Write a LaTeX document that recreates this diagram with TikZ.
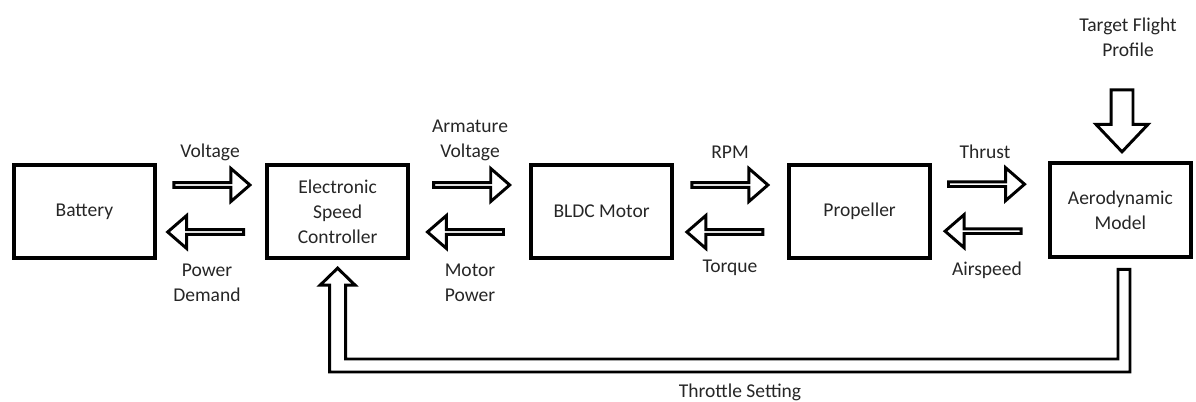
\documentclass[tikz,border=0pt]{standalone}
\usepackage{fontspec}
\setmainfont{Carlito}
\usetikzlibrary{shapes.arrows,calc}

\tikzset{
  block/.style={draw, line width=2.8pt, minimum width=3.53cm, minimum height=2.33cm, align=center},
  flow/.style={single arrow, draw, line width=2.1pt, inner sep=0pt, minimum height=1.9cm,
    minimum width=0.825cm, single arrow head extend=0.23cm, single arrow tip angle=82},
  back/.style={flow, shape border rotate=180},
  lbl/.style={align=center, inner sep=0pt},
  pipe/.style={draw, line width=2.1pt},
}

\begin{document}
\begin{tikzpicture}[font=\fontsize{13.9}{17.8}\selectfont, text=black!85]
\useasboundingbox (0,0) rectangle (29.9,10.05);

% Blocks
\node[block] (battery) at (2.11,4.76) {Battery};
\node[block] (esc) at (8.44,4.76) {Electronic\\Speed\\Controller};
\node[block] (motor) at (15.04,4.76) {BLDC Motor};
\node[block] (prop) at (21.49,4.76) {Propeller};
\node[block] (aero) at (28.01,4.80) {Aerodynamic\\Model};

% Forward and return flows
\node[flow] (volt) at ($(battery.east)!0.5!(esc.west)+(-0.01,0.665)$) {};
\node[back] (pwr) at ($(battery.east)!0.5!(esc.west)+(-0.1,-0.51)$) {};
\node[flow] (arm) at ($(esc.east)!0.5!(motor.west)+(0.02,0.665)$) {};
\node[back] (mpwr) at ($(esc.east)!0.5!(motor.west)+(-0.07,-0.51)$) {};
\node[flow] (rpm) at ($(motor.east)!0.5!(prop.west)+(-0.05,0.665)$) {};
\node[back] (torq) at ($(motor.east)!0.5!(prop.west)+(-0.11,-0.51)$) {};
\node[flow] (thr) at ($(prop.east)!0.5!(aero.west)+(-0.12,0.665)$) {};
\node[back] (air) at ($(prop.east)!0.5!(aero.west)+(-0.14,-0.51)$) {};
\node[flow, shape border rotate=270, inner xsep=0.2375cm, minimum height=1.55cm, minimum width=1.225cm,
  single arrow head extend=0.375cm, single arrow tip angle=87] (target) at ($(aero.north)+(0.04,1.16)$) {};

% Labels
\node[lbl] (volt-l) at (5.25,6.25) {Voltage};
\node[lbl] (pwr-l) at (5.175,2.99) {Power\\Demand};
\node[lbl] (arm-l) at (11.75,6.54) {Armature\\Voltage};
\node[lbl] (mpwr-l) at (11.75,2.99) {Motor\\Power};
\node[lbl] (rpm-l) at (18.25,6.25) {RPM};
\node[lbl] (torq-l) at (18.25,3.35) {Torque};
\node[lbl] (thr-l) at (24.625,6.25) {Thrust};
\node[lbl] (air-l) at (24.675,3.3) {Airspeed};
\node[lbl] (target-l) at (28.2,9.11) {Target Flight\\Profile};

% Throttle loop
\coordinate (ts) at ($(aero.south)+(0.09,-0.27)$);
\coordinate (tt) at ($(esc.south)+(0,-0.2)$);
\coordinate (tb) at (0,0.9125);
\draw[pipe] ($(ts)+(-0.15,0)$) -- ($(ts)+(0.15,0)$)
  -- ($(ts |- tb)+(0.15,-0.1625)$) -- ($(tt |- tb)+(-0.2,-0.1625)$)
  -- ($(tt)+(-0.2,-0.425)$) -- ($(tt)+(-0.4375,-0.425)$) -- (tt)
  -- ($(tt)+(0.4375,-0.425)$) -- ($(tt)+(0.2,-0.425)$)
  -- ($(tt |- tb)+(0.2,0.1625)$) -- ($(ts |- tb)+(-0.15,0.1625)$) -- cycle;
\node[lbl] (ts-l) at (18.5,0.25) {Throttle Setting};

\end{tikzpicture}
\end{document}
